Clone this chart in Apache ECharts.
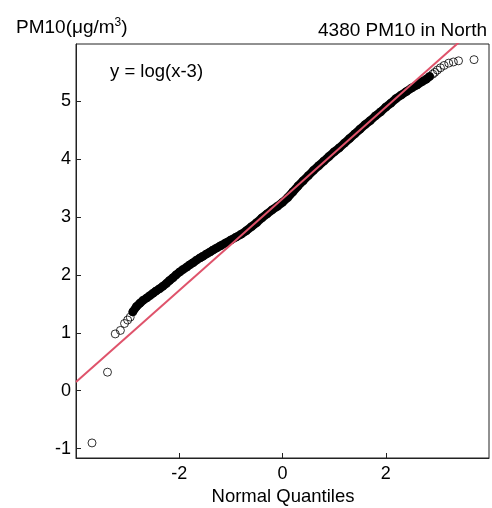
<!DOCTYPE html>
<html>
<head>
<meta charset="utf-8">
<script src="https://cdn.jsdelivr.net/npm/echarts@6/dist/echarts.min.js"></script>
<style>
html,body{margin:0;padding:0;background:#fff;}
#c{width:492px;height:508px;}
</style>
</head>
<body>
<div id="c"></div>
<script>
// ---- data ----
var lowTailX = [-3.69, -3.39, -3.24, -3.14, -3.06, -3.00, -2.95];
var lowTailY = [-0.90, 0.32, 0.98, 1.04, 1.16, 1.22, 1.27];

var bodyX = [-2.90,-2.83,-2.76,-2.70,-2.63,-2.57,-2.51,-2.45,-2.38,-2.32,-2.25,-2.19,-2.12,-2.06,-1.99,-1.93,-1.86,-1.80,-1.73,-1.67,-1.60,-1.54,-1.47,-1.41,-1.34,-1.28,-1.20,-1.10,-1.00,-0.90,-0.80,-0.70,-0.60,-0.50,-0.40,-0.30,-0.20,-0.10,0.00,0.10,0.20,0.30,0.40,0.50,0.60,0.70,0.80,0.90,1.00,1.10,1.20,1.30,1.40,1.50,1.60,1.70,1.80,1.90,2.00,2.10,2.20,2.30,2.40,2.50,2.60,2.70,2.78,2.85];
var bodyY = [1.36,1.45,1.51,1.56,1.60,1.64,1.68,1.72,1.76,1.80,1.85,1.90,1.95,2.00,2.05,2.09,2.13,2.17,2.21,2.25,2.29,2.32,2.36,2.39,2.43,2.46,2.50,2.55,2.60,2.65,2.70,2.76,2.83,2.90,2.98,3.05,3.12,3.18,3.25,3.33,3.43,3.53,3.62,3.71,3.80,3.88,3.96,4.04,4.12,4.19,4.27,4.35,4.43,4.51,4.59,4.66,4.74,4.81,4.89,4.96,5.04,5.10,5.16,5.22,5.27,5.33,5.37,5.42];

var highTailX = [2.91, 2.95, 3.00, 3.06, 3.13, 3.22, 3.31, 3.41, 3.71];
var highTailY = [5.46, 5.49, 5.53, 5.57, 5.61, 5.65, 5.67, 5.69, 5.71];

var qqLineX = [-4, 4];
var qqLineY = [0.15, 6.47];

var xTicks = [-2, 0, 2];
var yTicks = [-1, 0, 1, 2, 3, 4, 5];

var titleText = '4380 PM10 in North';
var yLabelMain = 'PM10(\u03bcg/m';
var yLabelSup = '3';
var xLabelText = 'Normal Quantiles';
var noteText = 'y = log(x-3)';

function pairs(xs, ys){ return xs.map(function(v,i){ return [v, ys[i]]; }); }

var FONT = '"Liberation Sans", Arial, sans-serif';
var chart = echarts.init(document.getElementById('c'), null, {renderer:'canvas'});
var circleStyle = {color:'rgba(0,0,0,0)', borderColor:'#000', borderWidth:1};

chart.setOption({
  animation:false,
  backgroundColor:'#fff',
  grid:{left:76, right:3, top:44, bottom:50, show:true, borderColor:'#222', borderWidth:1, backgroundColor:'rgba(0,0,0,0)'},
  xAxis:{
    type:'value', min:-4, max:4,
    axisLine:{show:true, onZero:false, lineStyle:{color:'#222', width:1}},
    axisTick:{show:true, inside:true, length:5, customValues:xTicks, lineStyle:{color:'#222'}},
    axisLabel:{show:true, customValues:xTicks, color:'#000', fontSize:18, fontFamily:FONT, margin:7},
    splitLine:{show:false}
  },
  yAxis:{
    type:'value', min:-1.16, max:5.98,
    axisLine:{show:true, onZero:false, lineStyle:{color:'#222', width:1}},
    axisTick:{show:true, inside:true, length:5, customValues:yTicks, lineStyle:{color:'#222'}},
    axisLabel:{show:true, customValues:yTicks, color:'#000', fontSize:18, fontFamily:FONT, margin:5},
    splitLine:{show:false}
  },
  graphic:[
    {type:'text', right:5, top:21, style:{text:titleText, fill:'#000', font:'19px '+FONT}},
    {type:'text', left:16, top:17, style:{
      text:'{m|'+yLabelMain+'}{s|'+yLabelSup+'}{m|)}',
      rich:{m:{fontSize:19, fontFamily:FONT, fill:'#000', color:'#000'},
            s:{fontSize:12, fontFamily:FONT, fill:'#000', color:'#000', padding:[0,0,9,0]}}
    }},
    {type:'text', left:110, top:62, style:{text:noteText, fill:'#000', font:'18.5px '+FONT}},
    {type:'text', x:283, y:487, style:{text:xLabelText, fill:'#000', font:'18.5px '+FONT, align:'center', verticalAlign:'top'}}
  ],
  series:[
    {type:'line', data:pairs(bodyX, bodyY), symbol:'none', clip:true,
     lineStyle:{color:'#000', width:8.5, cap:'round', join:'round'}, z:2},
    {type:'scatter', data:pairs(bodyX, bodyY), symbol:'circle', symbolSize:8, itemStyle:circleStyle, z:3},
    {type:'scatter', data:pairs(lowTailX, lowTailY), symbol:'circle', symbolSize:8, itemStyle:circleStyle, z:3},
    {type:'scatter', data:pairs(highTailX, highTailY), symbol:'circle', symbolSize:8, itemStyle:circleStyle, z:3},
    {type:'line', data:pairs(qqLineX, qqLineY), symbol:'none', clip:true,
     lineStyle:{color:'#DF536B', width:2}, z:4, silent:true}
  ]
});
</script>
</body>
</html>
